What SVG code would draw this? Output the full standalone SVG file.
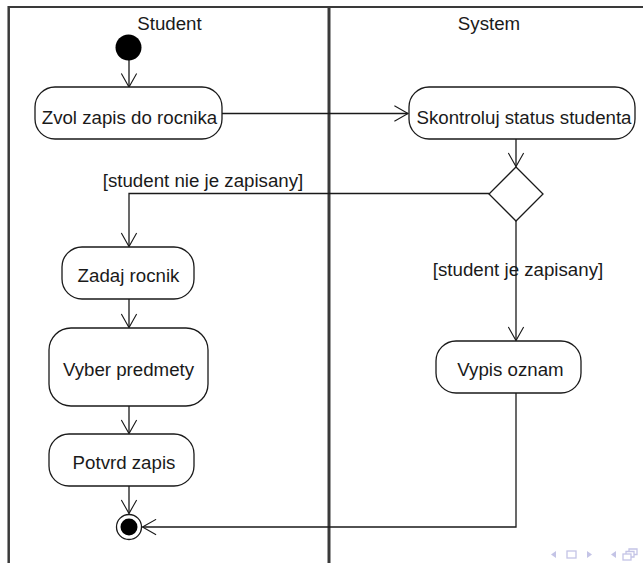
<svg xmlns="http://www.w3.org/2000/svg" width="643" height="563" viewBox="0 0 643 563">
  <style>
    .lane { stroke: #3a3a3a; fill: none; }
    .act { fill: #fff; stroke: #1a1a1a; stroke-width: 1.3; }
    .lbl { font-family: "Liberation Sans", Arial, sans-serif; font-size: 18.7px; fill: #1a1a1a; }
    .flow { fill: none; stroke: #1a1a1a; stroke-width: 1.3; }
    .nav { fill: #c4c4e6; stroke: none; }
    .navs { fill: none; stroke: #c4c4e6; stroke-width: 1.3; }
  </style>
  <defs>
    <marker id="open" viewBox="0 0 20 20" refX="17" refY="10" markerWidth="17" markerHeight="17" markerUnits="userSpaceOnUse" orient="auto">
      <path d="M1,1 L17,10 L1,19" fill="none" stroke="#1a1a1a" stroke-width="1.3"/>
    </marker>
  </defs>

  <rect width="643" height="563" fill="#fff"/>

  <!-- swimlane frame -->
  <g id="lanes">
    <line class="lane" x1="8" y1="7" x2="643" y2="7" stroke-width="2"/>
    <line class="lane" x1="8.7" y1="6" x2="8.7" y2="563" stroke-width="2.5"/>
    <line class="lane" x1="329" y1="7" x2="329" y2="563" stroke-width="3"/>
    <text class="lbl" x="169.5" y="30" text-anchor="middle">Student</text>
    <text class="lbl" x="489" y="30" text-anchor="middle">System</text>
  </g>

  <!-- control flows -->
  <g id="connectors">
    <path class="flow" d="M129,60 L129,87" marker-end="url(#open)"/>
    <path class="flow" d="M222,113.5 L408,113.5" marker-end="url(#open)"/>
    <path class="flow" d="M516,139 L516,166.5" marker-end="url(#open)"/>
    <path class="flow" d="M489,193.5 L129,193.5 L129,246.5" marker-end="url(#open)"/>
    <path class="flow" d="M516,221 L516,340.5" marker-end="url(#open)"/>
    <path class="flow" d="M129,299 L129,327.5" marker-end="url(#open)"/>
    <path class="flow" d="M129,406 L129,433.5" marker-end="url(#open)"/>
    <path class="flow" d="M129,486 L129,513.5" marker-end="url(#open)"/>
    <path class="flow" d="M516,393 L516,527 L142.5,527" marker-end="url(#open)"/>
    <text class="lbl" x="203" y="187" text-anchor="middle">[student nie je zapisany]</text>
    <text class="lbl" x="518" y="276" text-anchor="middle">[student je zapisany]</text>
  </g>

  <g id="start">
    <circle cx="128.5" cy="47.5" r="13" fill="#000"/>
  </g>

  <g id="zvol">
    <rect class="act" x="35" y="87" width="187" height="52" rx="20"/>
    <text class="lbl" x="129.5" y="124" text-anchor="middle">Zvol zapis do rocnika</text>
  </g>

  <g id="skontroluj">
    <rect class="act" x="409" y="87" width="226" height="52" rx="20"/>
    <text class="lbl" x="524" y="124" text-anchor="middle">Skontroluj status studenta</text>
  </g>

  <g id="decision">
    <path class="act" d="M516,167 L543,194 L516,221 L489,194 Z"/>
  </g>

  <g id="zadaj">
    <rect class="act" x="62" y="247" width="132" height="52" rx="20"/>
    <text class="lbl" x="128.5" y="282" text-anchor="middle">Zadaj rocnik</text>
  </g>

  <g id="vyber">
    <rect class="act" x="49" y="328" width="159" height="78" rx="22"/>
    <text class="lbl" x="128.5" y="376" text-anchor="middle">Vyber predmety</text>
  </g>

  <g id="potvrd">
    <rect class="act" x="49" y="434" width="145" height="52" rx="20"/>
    <text class="lbl" x="124" y="469" text-anchor="middle">Potvrd zapis</text>
  </g>

  <g id="vypis">
    <rect class="act" x="436" y="341" width="145" height="52" rx="20"/>
    <text class="lbl" x="510.5" y="376" text-anchor="middle">Vypis oznam</text>
  </g>

  <g id="end">
    <circle cx="129" cy="527" r="12.5" fill="#fff" stroke="#1a1a1a" stroke-width="1.3"/>
    <circle cx="129" cy="527" r="8.5" fill="#000"/>
  </g>

  <!-- navigation symbols -->
  <g id="nav">
    <path class="nav" d="M556,551 L551,554.5 L556,558 Z"/>
    <rect class="navs" x="567" y="551" width="9" height="7"/>
    <path class="nav" d="M587,551 L592,554.5 L587,558 Z"/>
    <path class="nav" d="M616,551 L611,554.5 L616,558 Z"/>
    <rect class="navs" x="623" y="554" width="8" height="6"/>
    <path class="navs" d="M626,554 L626,551.5 L634,551.5 L634,557 L631,557 M629,551.5 L629,549 L637,549 L637,554.5 L634,554.5"/>
  </g>
</svg>
